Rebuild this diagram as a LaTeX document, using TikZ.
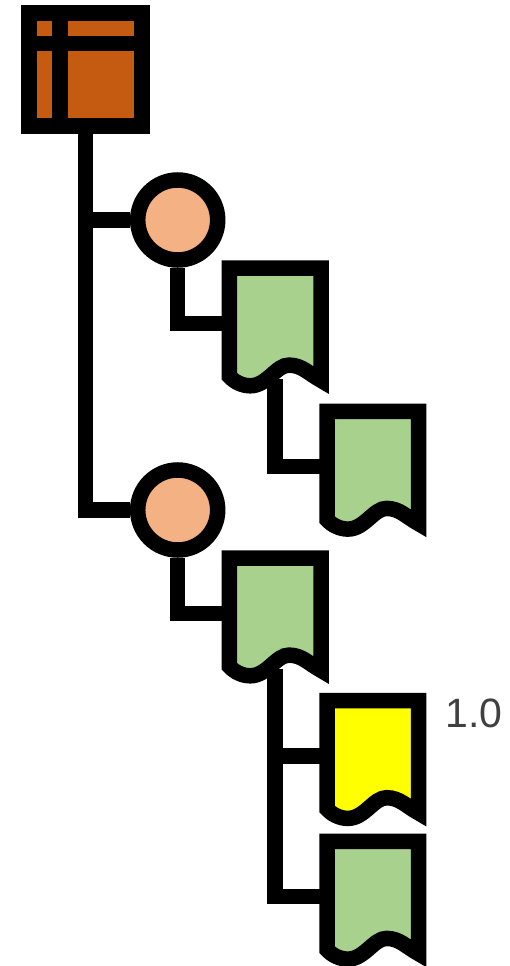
\documentclass[tikz,border=0pt]{standalone}
\usepackage{fontspec}
\setmainfont{Liberation Sans}
\usetikzlibrary{backgrounds}
\definecolor{rootfill}{HTML}{C55A11}
\definecolor{circfill}{HTML}{F4B183}
\definecolor{docfill}{HTML}{A9D18E}
\definecolor{labelgray}{HTML}{404040}
\definecolor{docyellow}{rgb}{1,1,0}
\tikzset{
  outline/.style={draw=black,line width=15.5pt,miter limit=10,line join=miter},
  conn/.style={draw=black,line width=15.5pt,line join=miter,line cap=butt},
  rootbox/.style={outline,fill=rootfill,rectangle,inner sep=0pt,minimum size=113pt},
  circbox/.style={outline,fill=circfill,circle,inner sep=0pt,minimum size=80pt},
  docanchor/.style={rectangle,inner sep=0pt,minimum width=91.6pt,minimum height=110pt},
  valuelabel/.style={text=labelgray,font=\fontsize{41}{41}\selectfont,inner sep=0pt,anchor=west}
}
% doc shape, relative to the centre of its anchor node
\newcommand{\docshape}[2]{%
  \draw[outline,fill=#2,shift={(#1.center)}]
    (-45.8,-55.3) -- (45.8,-55.3) -- (45.8,57)
    .. controls (33,50) and (27,42) .. (14,41.8)
    .. controls (1,41.5) and (-8,62.5) .. (-25,62.5)
    .. controls (-33,62.5) and (-41,58.5) .. (-45.8,53) -- cycle;
}
\begin{document}
\begin{tikzpicture}[x=1pt,y=-1pt]
\useasboundingbox (0,0) rectangle (510,966);
\node[rootbox] (root) at (85.5,69.3) {};
\draw[conn] (60,13) -- (60,126);
\draw[conn] (29,43.5) -- (142,43.5);
\node[circbox] (c1) at (177.7,220) {};
\node[circbox] (c2) at (177.7,510) {};
\node[docanchor] (d1) at (275.2,323.3) {};
\node[docanchor] (d2) at (372.8,466.6) {};
\node[docanchor] (d3) at (275.2,613.3) {};
\node[docanchor] (d4) at (372.8,755.9) {};
\node[docanchor] (d5) at (372.8,896.6) {};
\begin{scope}[on background layer]
\draw[conn] (root) |- (c1);
\draw[conn] (root) |- (c2);
\draw[conn] (c1) |- (d1);
\draw[conn] (c2) |- (d3);
\draw[conn] (d1) |- (d2);
\draw[conn] (d3) |- (d4);
\draw[conn] (d3) |- (d5);
\end{scope}
\docshape{d1}{docfill}
\docshape{d2}{docfill}
\docshape{d3}{docfill}
\docshape{d4}{docyellow}
\docshape{d5}{docfill}
\node[valuelabel] (v) at (445.5,713.5) {1.0};
\end{tikzpicture}
\end{document}
